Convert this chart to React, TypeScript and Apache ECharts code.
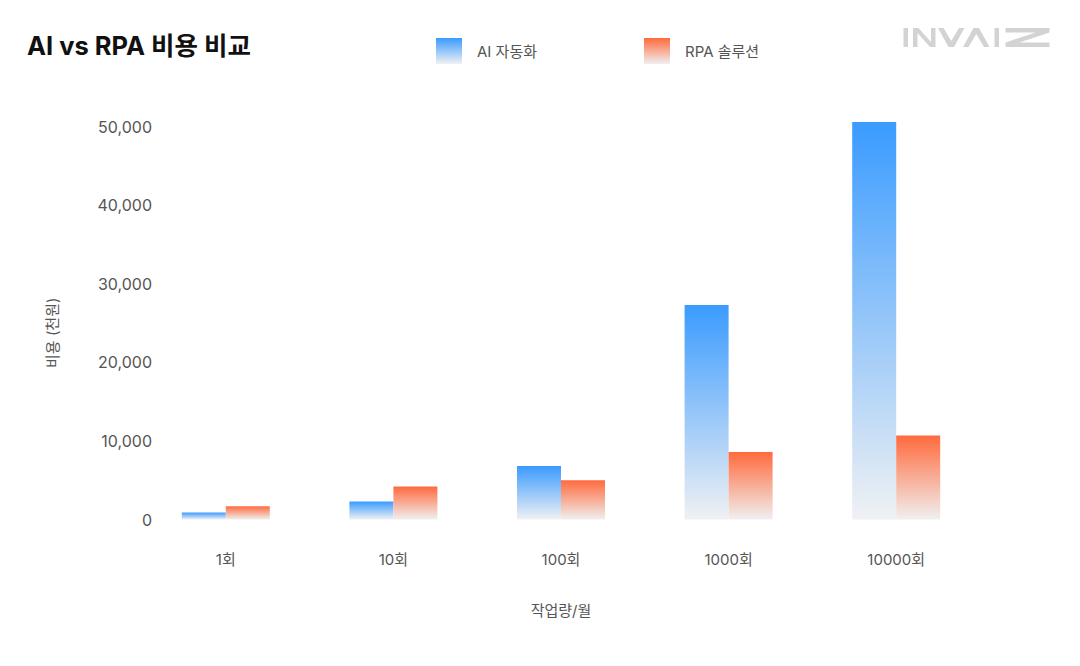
import React, { useEffect, useRef } from "react";
import * as echarts from "echarts";

const categories = ["1회", "10회", "100회", "1000회", "10000회"];
const aiCost = [900, 2300, 6800, 27300, 50600];
const rpaCost = [1700, 4200, 5000, 8600, 10700];
const seriesNames = ["AI 자동화", "RPA 솔루션"];

const FONT = "Inter, 'Noto Sans CJK KR', 'Noto Sans', sans-serif";
const LOGO = "#d3d3d3";

const grad = (top: string, bottom: string) => ({
  type: "linear",
  x: 0,
  y: 0,
  x2: 0,
  y2: 1,
  colorStops: [
    { offset: 0, color: top },
    { offset: 1, color: bottom },
  ],
});

const logoChildren = () => {
  const h = 19;
  const t = 4.5;
  const r = (x: number, y: number, w: number, hh: number) => ({
    type: "rect",
    shape: { x, y, width: w, height: hh },
    style: { fill: LOGO },
  });
  const p = (pts: number[][]) => ({
    type: "polygon",
    shape: { points: pts },
    style: { fill: LOGO },
  });
  return [
    r(0, 0, t, h),
    r(9.5, 0, t, h),
    r(27.5, 0, t, h),
    p([[9.5, 0], [15, 0], [32, h], [26.5, h]]),
    p([[34.5, 0], [40, 0], [47.75, 13], [55.5, 0], [61, 0], [50.5, h], [45, h]]),
    p([[59.5, h], [65, h], [72.75, 6], [80.5, h], [86, h], [75.5, 0], [70, 0]]),
    r(91, 0, t, h),
    p([[102, 0], [146, 0], [146, 4.5], [116, 14.5], [146, 14.5], [146, h], [102, h], [102, 14.5], [132, 4.5], [102, 4.5]]),
  ];
};

export default function App() {
  const ref = useRef<HTMLDivElement>(null);
  useEffect(() => {
    if (!ref.current) return;
    const chart = echarts.init(ref.current, undefined, { renderer: "svg" });
    const legendBase = {
      top: 38,
      padding: 0,
      itemWidth: 26,
      itemHeight: 26,
      icon: "rect",
      selectedMode: false,
      textStyle: { fontSize: 15, color: "#555", fontFamily: FONT, padding: [0, 0, 0, 10] },
    };
    chart.setOption({
      animation: false,
      textStyle: { fontFamily: FONT },
      title: {
        text: "AI vs RPA 비용 비교",
        left: 27,
        top: 33,
        padding: 0,
        textStyle: { fontSize: 25.5, fontWeight: "bold", color: "#111", fontFamily: FONT },
      },
      legend: [
        { ...legendBase, data: [seriesNames[0]], left: 436 },
        { ...legendBase, data: [seriesNames[1]], left: 644 },
      ],
      grid: { left: 142, right: 100, top: 122, bottom: 146.5, containLabel: false },
      xAxis: {
        type: "category",
        data: categories,
        axisLine: { show: false },
        axisTick: { show: false },
        axisLabel: { fontSize: 15, color: "#555", margin: 32, fontFamily: FONT },
        name: "작업량/월",
        nameLocation: "middle",
        nameGap: 83,
        nameTextStyle: { fontSize: 15, color: "#555", fontFamily: FONT },
      },
      yAxis: {
        type: "value",
        min: 0,
        max: "dataMax",
        interval: 10000,
        splitLine: { show: false },
        axisLine: { show: false },
        axisTick: { show: false },
        axisLabel: {
          fontSize: 16,
          color: "#555",
          margin: -10,
          showMaxLabel: false,
          fontFamily: FONT,
          formatter: (v: number) => v.toLocaleString("en-US"),
        },
        name: "비용 (천원)",
        nameLocation: "middle",
        nameRotate: 90,
        nameGap: 82,
        nameTextStyle: { fontSize: 15, color: "#555", fontFamily: FONT, padding: [0, 24, 0, 0] },
      },
      series: [
        {
          name: seriesNames[0],
          type: "bar",
          data: aiCost,
          barWidth: 44,
          barGap: "0%",
          itemStyle: { color: grad("#3a9bff", "#f0f1f3") },
          emphasis: { disabled: true },
        },
        {
          name: seriesNames[1],
          type: "bar",
          data: rpaCost,
          barWidth: 44,
          barGap: "0%",
          itemStyle: { color: grad("#ff6a3d", "#f0f0f0") },
          emphasis: { disabled: true },
        },
      ],
      graphic: [
        {
          type: "group",
          x: 903.5,
          y: 28,
          children: logoChildren(),
        },
      ],
    });
    return () => chart.dispose();
  }, []);
  return (
    <div
      ref={ref}
      style={{ position: "fixed", left: 0, top: 0, width: 1080, height: 666, background: "#fff" }}
    />
  );
}
